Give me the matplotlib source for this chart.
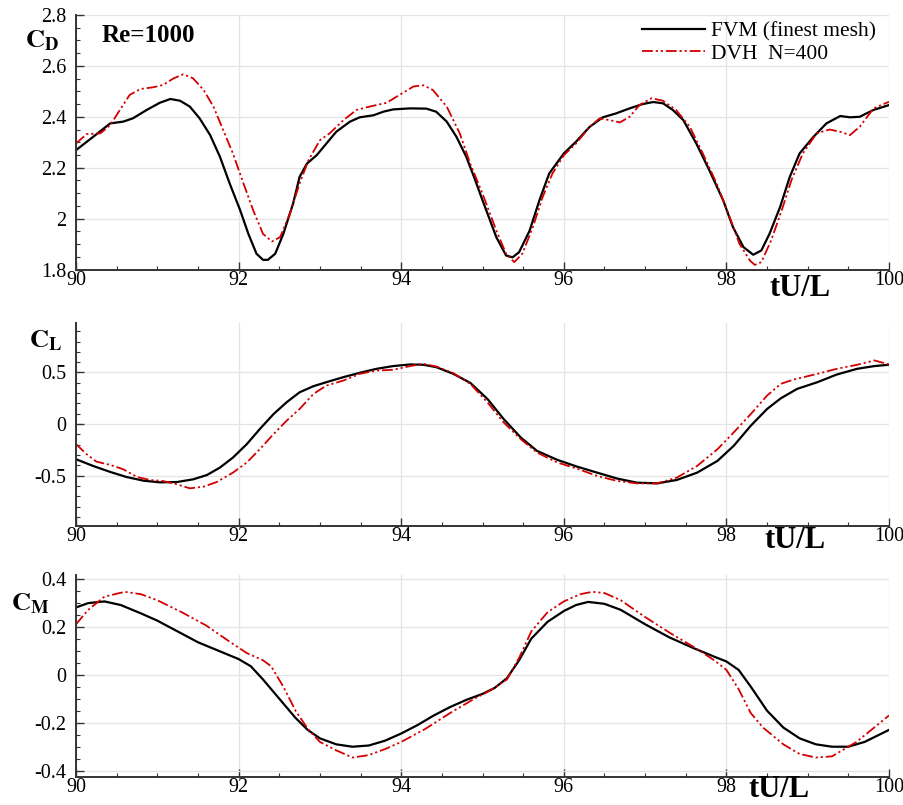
import matplotlib
matplotlib.use("Agg")
import matplotlib.pyplot as plt
from matplotlib.ticker import MultipleLocator, FuncFormatter

plt.rcParams['font.family'] = ['Liberation Serif', 'DejaVu Serif']
plt.rcParams['mathtext.fontset'] = 'stix'

# drag coefficient, FVM (finest mesh)
t_cd_fvm = [90.0, 90.21, 90.42, 90.58, 90.70, 90.87, 91.03, 91.16, 91.28, 91.40, 91.52, 91.65,
            91.77, 91.89, 92.02, 92.12, 92.22, 92.30, 92.36, 92.45, 92.55, 92.67, 92.75, 92.84,
            92.96, 93.08, 93.20, 93.37, 93.49, 93.66, 93.78, 93.90, 94.11, 94.31, 94.43, 94.56,
            94.68, 94.80, 94.90, 95.00, 95.17, 95.29, 95.37, 95.45, 95.58, 95.70, 95.82, 96.0,
            96.15, 96.32, 96.48, 96.64, 96.81, 96.97, 97.10, 97.22, 97.34, 97.47, 97.63, 97.79,
            97.96, 98.08, 98.21, 98.33, 98.43, 98.53, 98.66, 98.78, 98.90, 99.07, 99.23, 99.40,
            99.52, 99.64, 99.81, 100.0]
cd_fvm = [2.269, 2.321, 2.374, 2.381, 2.394, 2.427, 2.455, 2.470, 2.463, 2.440, 2.394, 2.328,
          2.243, 2.138, 2.032, 1.940, 1.862, 1.838, 1.838, 1.862, 1.940, 2.059, 2.164, 2.216,
          2.249, 2.295, 2.341, 2.381, 2.398, 2.406, 2.420, 2.429, 2.433, 2.432, 2.420, 2.381,
          2.321, 2.243, 2.160, 2.072, 1.927, 1.855, 1.848, 1.868, 1.953, 2.072, 2.177, 2.256,
          2.302, 2.361, 2.398, 2.413, 2.433, 2.450, 2.458, 2.453, 2.427, 2.387, 2.295, 2.190,
          2.072, 1.967, 1.888, 1.858, 1.875, 1.940, 2.045, 2.164, 2.256, 2.321, 2.374, 2.403,
          2.398, 2.400, 2.427, 2.446]

# drag coefficient, DVH N=400
t_cd_dvh = [90.0, 90.13, 90.30, 90.42, 90.54, 90.66, 90.79, 90.95, 91.07, 91.20, 91.32, 91.44,
            91.57, 91.69, 91.81, 91.93, 92.06, 92.18, 92.30, 92.41, 92.51, 92.63, 92.75, 92.86,
            93.00, 93.12, 93.29, 93.45, 93.61, 93.82, 93.98, 94.15, 94.27, 94.39, 94.56, 94.72,
            94.85, 95.00, 95.17, 95.29, 95.39, 95.49, 95.62, 95.74, 95.86, 96.0, 96.15, 96.32,
            96.44, 96.56, 96.69, 96.81, 96.93, 97.08, 97.22, 97.38, 97.55, 97.71, 97.88, 98.04,
            98.16, 98.29, 98.35, 98.43, 98.55, 98.68, 98.80, 98.94, 99.11, 99.27, 99.40, 99.52,
            99.64, 99.81, 100.0]
cd_dvh = [2.295, 2.332, 2.335, 2.367, 2.427, 2.486, 2.509, 2.516, 2.525, 2.551, 2.567, 2.551,
          2.505, 2.440, 2.348, 2.256, 2.138, 2.032, 1.940, 1.910, 1.927, 2.019, 2.138, 2.230,
          2.308, 2.335, 2.387, 2.427, 2.440, 2.455, 2.486, 2.519, 2.524, 2.505, 2.440, 2.335,
          2.215, 2.098, 1.953, 1.862, 1.829, 1.862, 1.967, 2.085, 2.177, 2.249, 2.295, 2.361,
          2.394, 2.387, 2.378, 2.400, 2.446, 2.473, 2.463, 2.427, 2.361, 2.256, 2.138, 2.006,
          1.901, 1.835, 1.818, 1.829, 1.914, 2.032, 2.151, 2.256, 2.335, 2.350, 2.341, 2.328,
          2.361, 2.433, 2.459]

# lift coefficient
t_cl_fvm = [90.0, 90.21, 90.42, 90.62, 90.83, 91.03, 91.24, 91.44, 91.61, 91.77, 91.93, 92.10,
            92.26, 92.43, 92.59, 92.75, 92.92, 93.08, 93.29, 93.49, 93.70, 93.90, 94.11, 94.27,
            94.43, 94.64, 94.85, 95.06, 95.26, 95.47, 95.67, 95.92, 96.16, 96.41, 96.66, 96.90,
            97.15, 97.39, 97.64, 97.89, 98.09, 98.30, 98.50, 98.67, 98.87, 99.12, 99.36, 99.61,
            99.82, 100.0]
cl_fvm = [-0.341, -0.406, -0.464, -0.513, -0.549, -0.565, -0.562, -0.536, -0.494, -0.422, -0.325,
          -0.195, -0.049, 0.097, 0.211, 0.308, 0.367, 0.406, 0.455, 0.497, 0.536, 0.562, 0.578,
          0.575, 0.552, 0.487, 0.399, 0.244, 0.049, -0.130, -0.260, -0.347, -0.412, -0.471,
          -0.529, -0.568, -0.575, -0.542, -0.471, -0.357, -0.211, -0.016, 0.146, 0.250, 0.341,
          0.406, 0.481, 0.536, 0.562, 0.575]

t_cl_dvh = [90.0, 90.13, 90.25, 90.42, 90.58, 90.75, 90.91, 91.07, 91.24, 91.40, 91.57, 91.73,
            91.93, 92.10, 92.26, 92.43, 92.59, 92.75, 92.92, 93.08, 93.29, 93.49, 93.70, 93.90,
            94.11, 94.27, 94.43, 94.64, 94.85, 95.06, 95.26, 95.47, 95.67, 95.92, 96.16, 96.41,
            96.66, 96.90, 97.15, 97.39, 97.64, 97.89, 98.09, 98.30, 98.50, 98.67, 98.83, 99.12,
            99.36, 99.61, 99.82, 100.0]
cl_dvh = [-0.195, -0.292, -0.364, -0.396, -0.438, -0.513, -0.542, -0.552, -0.584, -0.623, -0.607,
          -0.562, -0.471, -0.373, -0.244, -0.097, 0.032, 0.146, 0.292, 0.373, 0.422, 0.487, 0.519,
          0.526, 0.562, 0.584, 0.558, 0.494, 0.390, 0.211, 0.016, -0.146, -0.276, -0.373, -0.432,
          -0.503, -0.552, -0.575, -0.575, -0.519, -0.406, -0.244, -0.081, 0.097, 0.276, 0.390,
          0.432, 0.487, 0.536, 0.575, 0.617, 0.578]

# moment coefficient
t_cm_fvm = [90.0, 90.15, 90.35, 90.55, 90.8, 91.0, 91.25, 91.5, 91.75, 92.0, 92.15, 92.3, 92.5,
            92.7, 92.85, 93.0, 93.2, 93.4, 93.6, 93.8, 94.0, 94.2, 94.4, 94.6, 94.8, 95.0, 95.15,
            95.3, 95.45, 95.6, 95.8, 96.0, 96.15, 96.3, 96.5, 96.7, 97.0, 97.3, 97.6, 97.85, 98.0,
            98.15, 98.3, 98.5, 98.7, 98.9, 99.1, 99.3, 99.5, 99.7, 100.0]
cm_fvm = [0.28, 0.298, 0.305, 0.29, 0.255, 0.225, 0.18, 0.135, 0.10, 0.065, 0.035, -0.02, -0.10,
          -0.18, -0.23, -0.265, -0.29, -0.30, -0.295, -0.275, -0.245, -0.21, -0.17, -0.135, -0.105,
          -0.08, -0.055, -0.015, 0.06, 0.15, 0.22, 0.265, 0.29, 0.303, 0.295, 0.27, 0.21, 0.155,
          0.11, 0.075, 0.055, 0.02, -0.05, -0.15, -0.22, -0.265, -0.29, -0.30, -0.30, -0.28, -0.23]

t_cm_dvh = [90.0, 90.15, 90.35, 90.6, 90.8, 91.0, 91.3, 91.6, 91.9, 92.1, 92.3, 92.4, 92.55,
            92.7, 92.85, 93.0, 93.2, 93.4, 93.6, 93.8, 94.0, 94.3, 94.6, 94.9, 95.1, 95.3, 95.45,
            95.6, 95.8, 96.0, 96.2, 96.35, 96.5, 96.7, 97.0, 97.3, 97.6, 97.85, 98.0, 98.15, 98.3,
            98.45, 98.7, 98.9, 99.1, 99.3, 99.6, 100.0]
cm_dvh = [0.21, 0.27, 0.325, 0.345, 0.335, 0.31, 0.26, 0.205, 0.135, 0.09, 0.06, 0.035, -0.05,
          -0.15, -0.225, -0.28, -0.315, -0.345, -0.335, -0.31, -0.28, -0.225, -0.16, -0.10, -0.065,
          -0.02, 0.07, 0.18, 0.26, 0.305, 0.335, 0.345, 0.34, 0.31, 0.24, 0.175, 0.115, 0.06, 0.02,
          -0.06, -0.16, -0.22, -0.29, -0.33, -0.345, -0.34, -0.28, -0.17]

red = '#d40000'
dvh_dash = (6, 1.6, 1.2, 1.6, 1.2, 1.6)

fig = plt.figure(figsize=(9.04, 8.05), dpi=100)
ax_cd = fig.add_axes([0.0841, 0.6652, 0.8993, 0.3162])
ax_cl = fig.add_axes([0.0841, 0.3470, 0.8993, 0.2518])
ax_cm = fig.add_axes([0.0841, 0.0348, 0.8993, 0.2509])


def tick_text(v, pos):
    if abs(v) < 1e-9:
        return '0'
    return '%g' % round(v, 3)


def style_axis(ax, ylim, major, minor):
    ax.set_xlim(90, 100)
    ax.set_ylim(*ylim)
    ax.xaxis.set_major_locator(MultipleLocator(2))
    ax.xaxis.set_minor_locator(MultipleLocator(0.5))
    ax.yaxis.set_major_locator(MultipleLocator(major))
    ax.yaxis.set_minor_locator(MultipleLocator(minor))
    ax.yaxis.set_major_formatter(FuncFormatter(tick_text))
    ax.grid(True, which='major', color='#e4e4e4', linewidth=0.9)
    ax.set_axisbelow(True)
    for s in ['top', 'right']:
        ax.spines[s].set_visible(False)
    for s in ['left', 'bottom']:
        ax.spines[s].set_linewidth(1.4)
        ax.spines[s].set_color('#333333')
    ax.tick_params(which='both', direction='in', color='#333333', labelsize=14.5)
    ax.tick_params(which='major', length=6, width=1.0)
    ax.tick_params(which='minor', length=3, width=0.8)
    ax.tick_params(axis='x', which='major', pad=1)
    ax.tick_params(axis='y', which='major', pad=7)


style_axis(ax_cd, (1.8, 2.8), 0.2, 0.05)
style_axis(ax_cl, (-0.985, 0.98), 0.5, 0.1)
style_axis(ax_cm, (-0.426, 0.415), 0.2, 0.05)

ax_cd.plot(t_cd_fvm, cd_fvm, color='black', lw=1.6, label='FVM (finest mesh)')
ax_cd.plot(t_cd_dvh, cd_dvh, color=red, lw=1.3, dashes=dvh_dash, label='DVH  N=400')
ax_cl.plot(t_cl_fvm, cl_fvm, color='black', lw=1.6)
ax_cl.plot(t_cl_dvh, cl_dvh, color=red, lw=1.3, dashes=dvh_dash)
ax_cm.plot(t_cm_fvm, cm_fvm, color='black', lw=1.6)
ax_cm.plot(t_cm_dvh, cm_dvh, color=red, lw=1.3, dashes=dvh_dash)

ax_cd.legend(loc='upper right', bbox_to_anchor=(1.0, 1.025), frameon=False, fontsize=15.5,
             handlelength=2.9, handletextpad=0.3, labelspacing=0.1, borderaxespad=0.2)
ax_cd.text(0.031, 0.965, 'Re=1000', transform=ax_cd.transAxes, fontsize=18, fontweight='bold',
           va='top', ha='left')

# axis titles
fig.text(0.047, 0.950, r'$\mathbf{C_D}$', fontsize=19, ha='center', va='center')
fig.text(0.050, 0.577, r'$\mathbf{C_L}$', fontsize=19, ha='center', va='center')
fig.text(0.034, 0.250, r'$\mathbf{C_M}$', fontsize=19, ha='center', va='center')
for y, x in [(0.641, 0.885), (0.329, 0.880), (0.019, 0.862)]:
    fig.text(x, y, 'tU/L', fontsize=22, fontweight='bold', ha='center', va='center')

fig.savefig('out.png', dpi=100)
